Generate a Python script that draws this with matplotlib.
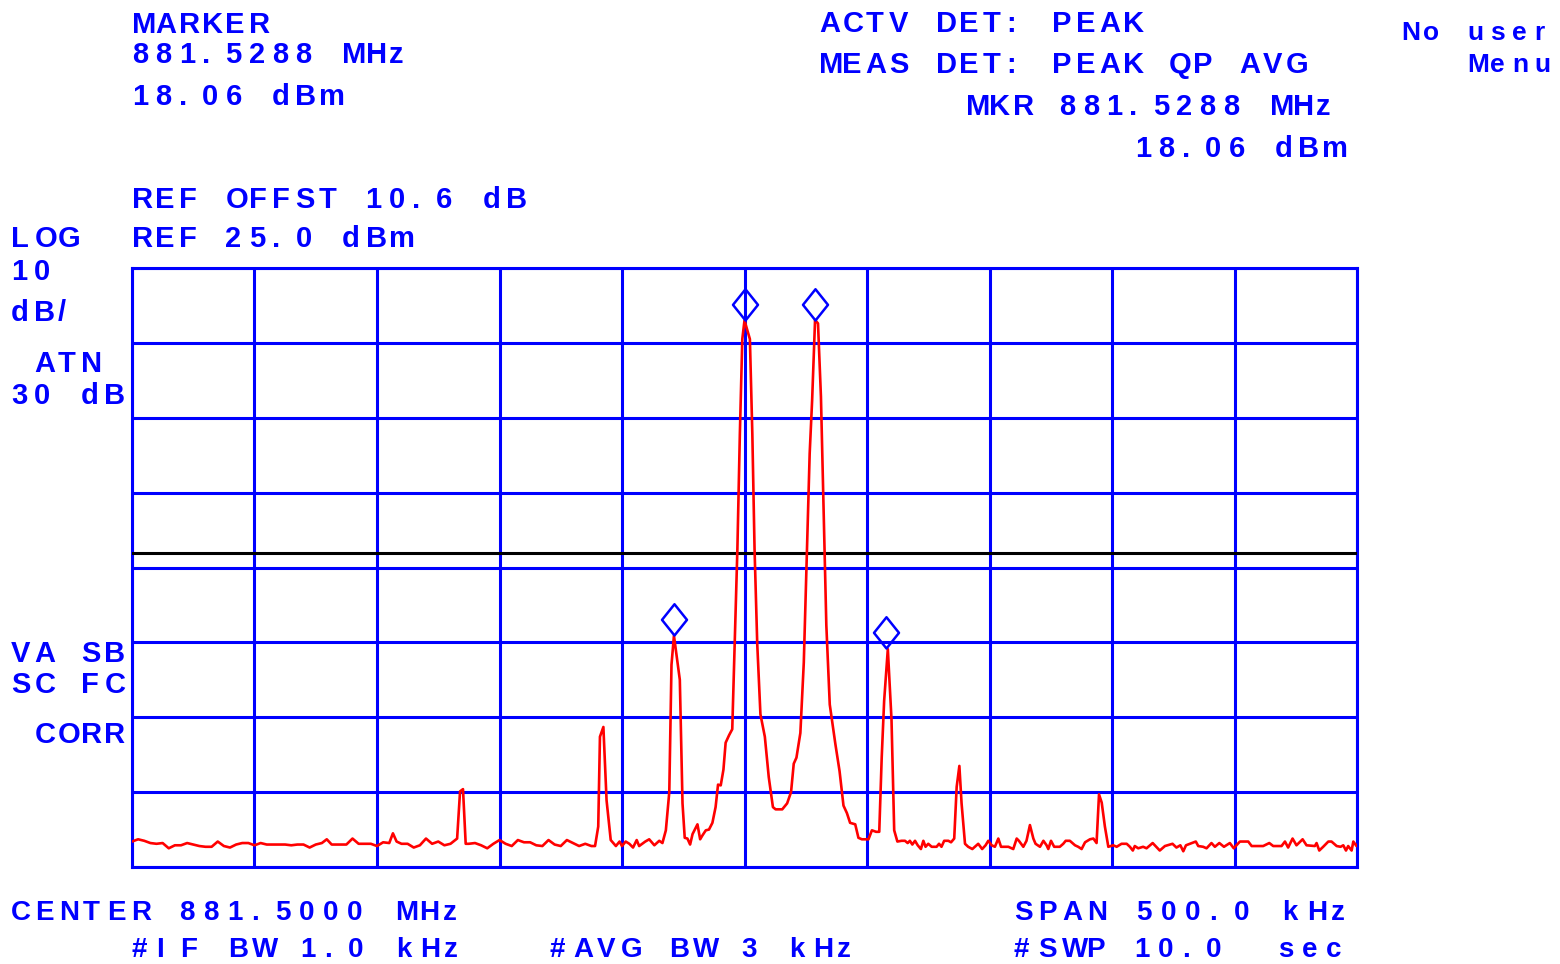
import matplotlib
matplotlib.use("Agg")
from matplotlib import pyplot as plt
from matplotlib.path import Path
import numpy as np

# Spectrum analyzer screen: 881.5 MHz center, 500 kHz span, ref 25 dBm, 10 dB/div

center_mhz = 881.5
span_khz = 500.0
ref_dbm = 25.0
db_per_div = 10.0
n_div_y = 8
display_line_dbm = -13.0

# trace: offset from center (kHz), level (dBm)
trace_khz = [
	-250.0, -247.5, -245.0, -242.5, -240.0, -237.5, -235.0, -232.5, -230.0, -227.5,
	-225.0, -222.5, -220.0, -217.5, -215.0, -212.5, -210.0, -207.5, -205.0, -202.5,
	-200.0, -197.5, -195.0, -192.5, -190.0, -187.5, -185.0, -182.5, -180.0, -177.5,
	-175.0, -172.5, -170.5, -168.5, -165.0, -162.5, -160.0, -157.5, -155.0, -152.5,
	-150.0, -147.5, -145.0, -143.5, -142.0, -140.0, -137.5, -135.0, -132.5, -130.0,
	-127.5, -125.0, -122.5, -120.0, -117.3, -116.1, -114.9, -113.8, -112.5, -110.0,
	-107.5, -105.0, -102.5, -100.0, -97.5, -95.0, -92.5, -90.0, -87.5, -85.0,
	-82.5, -80.0, -77.5, -75.0, -72.5, -70.0, -67.5, -65.0, -62.5, -61.0,
	-59.7, -59.0, -57.6, -56.3, -54.6, -52.5, -51.0, -50.0, -48.5, -47.0,
	-45.5, -44.0, -43.0, -40.5, -38.9, -36.8, -34.8, -33.5, -32.1, -30.7,
	-29.8, -28.8, -26.4, -25.3, -24.4, -23.3, -22.2, -21.2, -19.2, -18.1,
	-17.2, -15.8, -14.5, -13.1, -11.8, -10.8, -9.7, -8.6, -7.7, -6.3,
	-5.0, -4.0, -2.9, -1.9, -0.9, 0.0, 2.2, 3.2, 4.1, 5.2,
	6.5, 8.3, 9.9, 11.6, 12.7, 15.4, 17.4, 19.0, 20.1, 21.2,
	22.8, 24.2, 25.5, 26.6, 27.6, 28.8, 30.0, 31.2, 32.3, 33.4,
	34.8, 37.1, 38.8, 40.4, 41.8, 43.1, 45.2, 46.5, 47.9, 50.6,
	52.0, 53.7, 55.0, 56.0, 57.0, 58.5, 60.0, 61.1, 62.4, 64.1,
	65.5, 66.6, 67.5, 68.5, 69.6, 70.7, 72.0, 73.0, 73.9, 75.0,
	76.4, 78.4, 79.4, 80.4, 81.5, 83.2, 84.3, 85.6, 86.6, 87.7,
	88.6, 90.0, 91.3, 93.0, 94.7, 95.4, 97.0, 98.4, 99.5, 100.9,
	102.2, 103.6, 104.7, 107.7, 109.7, 111.1, 112.0, 113.8, 115.1, 116.5,
	117.9, 118.8, 120.6, 122.0, 123.3, 124.0, 125.1, 126.4, 128.7, 130.1,
	131.1, 132.8, 134.9, 136.2, 137.6, 139.0, 141.0, 142.4, 143.7, 144.7,
	145.8, 147.1, 148.5, 150.5, 151.9, 153.9, 156.0, 157.3, 158.5, 159.3,
	160.7, 162.7, 164.1, 166.6, 169.5, 171.6, 174.7, 176.3, 177.9, 179.1,
	180.2, 181.8, 184.2, 185.2, 187.2, 188.6, 190.6, 192.0, 193.8, 195.7,
	198.1, 199.7, 202.2, 205.6, 207.0, 211.7, 214.2, 215.8, 219.2, 220.6,
	221.9, 223.7, 225.3, 227.8, 229.4, 232.8, 233.5, 234.6, 236.2, 238.3,
	239.6, 241.7, 243.3, 244.4, 245.5, 246.4, 247.8, 248.5, 249.8, 250.0,
]
trace_dbm = [
	-51.6, -51.3, -51.5, -51.8, -51.9, -51.8, -52.5, -52.1, -52.1, -51.8,
	-52.0, -52.2, -52.3, -52.3, -51.6, -52.2, -52.4, -52.0, -51.8, -51.8,
	-52.1, -51.8, -52.0, -52.0, -52.0, -52.0, -52.1, -52.0, -52.0, -52.4,
	-52.0, -51.8, -51.3, -52.0, -52.0, -52.0, -51.2, -51.9, -51.9, -51.9,
	-52.2, -51.7, -51.8, -50.5, -51.6, -51.9, -51.9, -52.4, -52.1, -51.2,
	-51.9, -51.6, -52.1, -51.9, -51.2, -44.9, -44.6, -51.9, -51.9, -51.8,
	-52.1, -52.5, -51.9, -51.4, -51.9, -52.2, -51.4, -51.7, -51.7, -52.1,
	-52.2, -51.4, -52.0, -52.2, -51.4, -51.8, -52.2, -51.9, -52.2, -52.2,
	-49.6, -37.6, -36.3, -46.1, -51.4, -52.2, -51.6, -52.2, -51.6, -51.9,
	-52.4, -51.4, -52.2, -51.6, -51.3, -52.1, -51.5, -51.8, -50.1, -45.0,
	-28.0, -24.1, -30.0, -46.5, -51.1, -51.2, -52.0, -50.6, -49.3, -51.3,
	-50.8, -50.1, -50.0, -49.1, -47.0, -44.0, -44.1, -42.0, -38.4, -37.4,
	-36.6, -25.2, -12.5, 2.8, 15.5, 18.0, 15.5, 2.8, -12.5, -25.2,
	-34.6, -37.6, -43.0, -47.0, -47.3, -47.3, -46.5, -45.0, -41.2, -40.4,
	-37.1, -27.7, -12.5, 0.2, 7.3, 18.06, 17.6, 7.8, -7.4, -22.7,
	-33.3, -38.6, -42.2, -46.8, -47.8, -49.1, -49.3, -51.1, -51.3, -51.3,
	-50.1, -50.3, -50.3, -40.4, -32.8, -25.9, -35.3, -50.1, -51.6, -51.5,
	-51.5, -51.8, -51.5, -52.0, -51.5, -52.1, -52.6, -51.5, -52.3, -51.9,
	-52.3, -52.3, -51.9, -52.3, -51.5, -51.5, -51.7, -51.2, -44.3, -41.5,
	-46.5, -51.9, -52.3, -52.6, -52.1, -51.9, -52.6, -52.1, -51.5, -52.1,
	-52.3, -51.2, -52.3, -52.3, -52.6, -51.2, -51.5, -52.3, -51.5, -49.4,
	-51.2, -51.9, -52.3, -51.5, -52.1, -52.6, -51.5, -52.3, -52.3, -51.9,
	-51.5, -51.5, -52.1, -52.3, -52.6, -51.7, -51.3, -51.2, -51.8, -45.3,
	-46.4, -49.6, -52.3, -52.1, -52.3, -51.9, -51.9, -52.3, -52.8, -52.2,
	-52.5, -52.3, -52.5, -51.8, -52.8, -52.2, -51.9, -52.4, -52.1, -52.9,
	-52.1, -51.9, -51.6, -52.2, -52.3, -52.5, -51.8, -52.3, -51.8, -52.3,
	-51.8, -52.5, -51.6, -51.6, -52.2, -52.2, -51.8, -52.2, -52.2, -51.6,
	-52.4, -51.2, -52.1, -51.3, -52.1, -52.2, -51.8, -52.8, -52.3, -51.6,
	-51.6, -52.2, -52.3, -52.1, -52.8, -52.2, -52.8, -51.6, -52.2, -52.1,
]

# peak markers (diamonds)
marker_khz = [-28.6, 0.0, 28.8, 57.8]
marker_dbm = [-24.0, 18.0, 18.06, -25.8]

W, H = 1560, 964
blue = "#0000ff"
red = "#ff0000"

fig = plt.figure(figsize=(W / 100, H / 100), dpi=100)
fig.patch.set_facecolor("white")

# graticule position in pixels
left, right, top, bottom = 132, 1357, 268, 867
ax = fig.add_axes([left / W, 1 - bottom / H, (right - left) / W, (bottom - top) / H])

ax.set_xlim(-span_khz / 2, span_khz / 2)
ax.set_ylim(ref_dbm - n_div_y * db_per_div, ref_dbm)
ax.set_xticks(np.linspace(-span_khz / 2, span_khz / 2, 11))
ax.set_yticks(np.arange(ref_dbm - n_div_y * db_per_div, ref_dbm + 1, db_per_div))
ax.tick_params(length=0, labelleft=False, labelbottom=False)
ax.grid(True, color=blue, linewidth=2.2)
for s in ax.spines.values():
	s.set_color(blue)
	s.set_linewidth(2.2)

# display line
ax.axhline(display_line_dbm, color="black", linewidth=2.2, zorder=3)

ax.plot(trace_khz, trace_dbm, color=red, linewidth=1.9, zorder=4)

# diamond with its bottom tip on the point
diamond = Path([(0, 0), (0.8, 1), (0, 2), (-0.8, 1), (0, 0)],
	[Path.MOVETO, Path.LINETO, Path.LINETO, Path.LINETO, Path.CLOSEPOLY])
ax.plot(marker_khz, marker_dbm, linestyle="none", marker=diamond, markersize=45,
	markerfacecolor="none", markeredgecolor=blue, markeredgewidth=1.8, zorder=5,
	clip_on=False)


def screen_text(x_px, y_px, s, cell=23.35, size=21):
	# instrument font: fixed character cells
	for i, ch in enumerate(s):
		if ch == " ":
			continue
		fig.text((x_px + i * cell) / W, 1 - y_px / H, ch, color=blue,
			fontsize=size, fontweight="bold", family="Liberation Sans",
			ha="left", va="baseline")


screen_text(132, 33, "MARKER")
screen_text(132, 63, "881.5288 MHz")
screen_text(132, 105, "18.06 dBm")
screen_text(132, 208, "REF OFFST 10.6 dB")
screen_text(132, 247, "REF 25.0 dBm")

screen_text(819, 32, "ACTV DET: PEAK")
screen_text(819, 73, "MEAS DET: PEAK QP AVG")
screen_text(966, 115, "MKR 881.5288 MHz")
screen_text(1135, 157, "18.06 dBm")

screen_text(1401, 40, "No user", cell=22.2, size=19)
screen_text(1401, 72, "   Menu", cell=22.2, size=19)

screen_text(11, 247, "LOG")
screen_text(11, 280, "10")
screen_text(11, 321, "dB/")
screen_text(11, 372, " ATN")
screen_text(11, 404, "30 dB")
screen_text(11, 662, "VA SB")
screen_text(11, 693, "SC FC")
screen_text(11, 743, " CORR")

screen_text(11, 920, "CENTER 881.5000 MHz", cell=24, size=20)
screen_text(132, 957, "#IF BW 1.0 kHz", cell=24, size=20)
screen_text(549, 957, "#AVG BW 3 kHz", cell=24, size=20)
screen_text(1014, 920, "SPAN 500.0 kHz", cell=24.4, size=20)
screen_text(1014, 957, "#SWP 10.0  sec", cell=24, size=20)

plt.savefig("out.png", dpi=100)
